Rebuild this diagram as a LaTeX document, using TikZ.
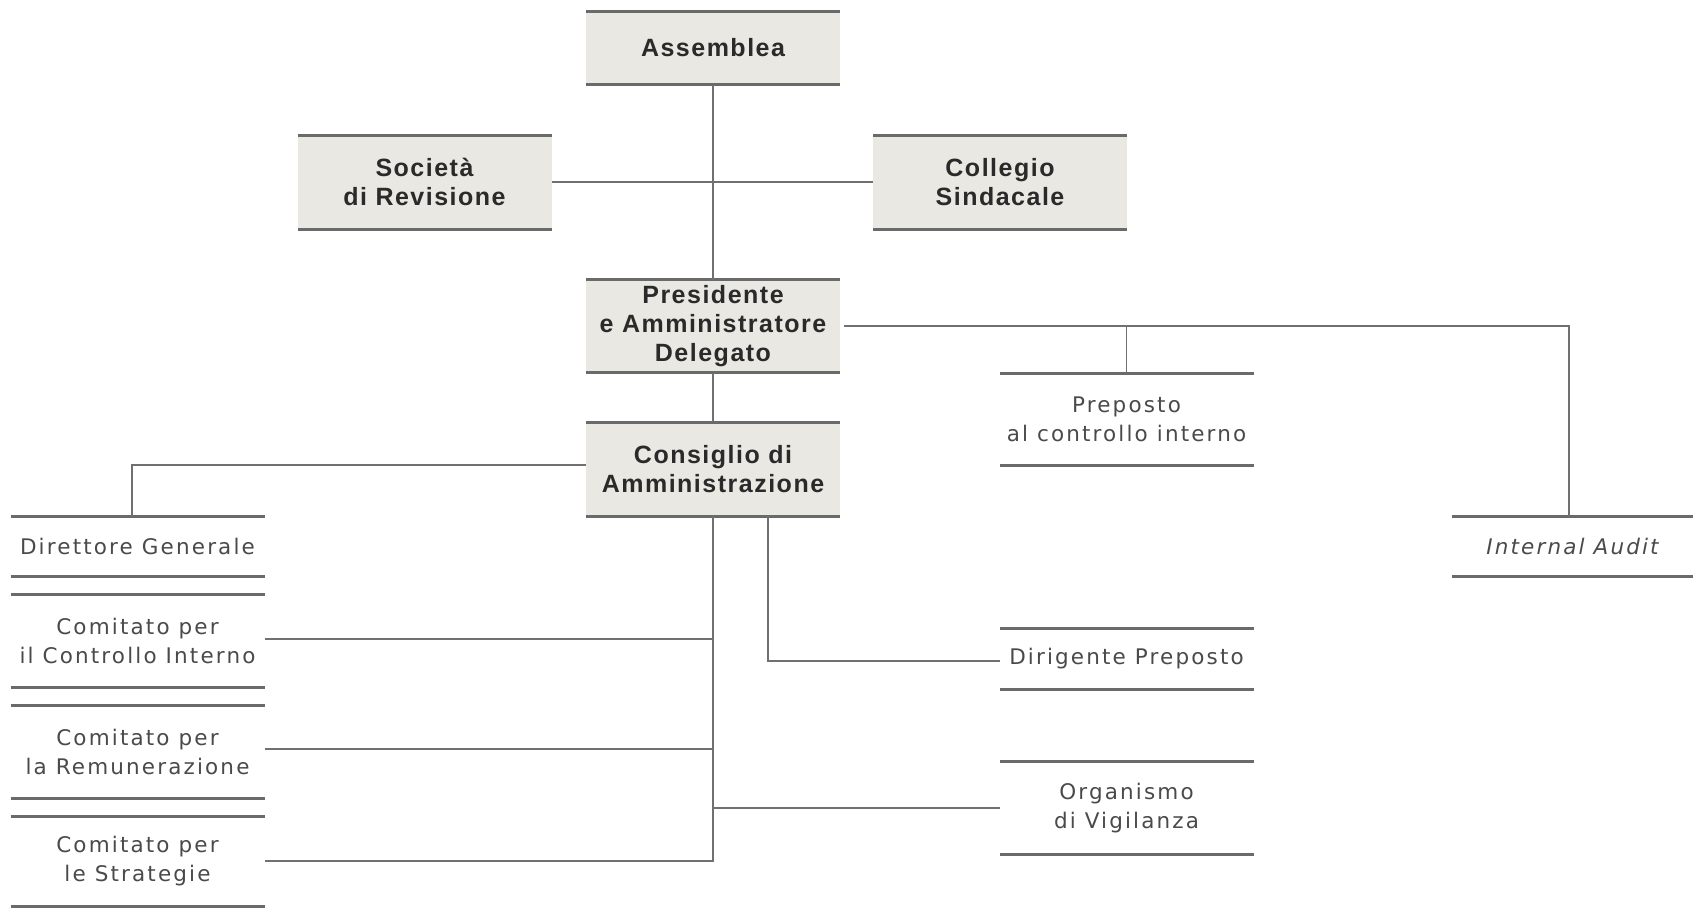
\documentclass[tikz,border=0pt]{standalone}
\usepackage{fontspec}
\setmainfont{Liberation Sans}
\newfontfamily\bfam[LetterSpace=6]{Liberation Sans}
\newfontfamily\rfam[LetterSpace=10]{DejaVu Sans}
\definecolor{boxfill}{HTML}{E9E8E2}
\definecolor{rulecol}{HTML}{6A6A6A}
\definecolor{linecol}{HTML}{707070}
\definecolor{txtdark}{HTML}{2A2A2A}
\definecolor{txtreg}{HTML}{4A4A4A}
\begin{document}
\begin{tikzpicture}[x=1pt,y=1pt,
  base/.style={inner sep=0pt, outer sep=0pt, align=center},
  graybox/.style={base, fill=boxfill, minimum width=254pt, text=txtdark,
    font=\bfam\bfseries\fontsize{25}{29}\selectfont},
  plainbox/.style={base, minimum width=254pt, text=txtreg,
    font=\rfam\fontsize{21.5}{29}\selectfont},
  rule/.style={line width=3pt, draw=rulecol},
  conn/.style={line width=1.6pt, draw=linecol}]
\useasboundingbox (0,0) rectangle (1693,-908);
% gray boxes
\node[graybox, minimum height=73pt] (ass) at (713,-48) {Assemblea};
\node[graybox, minimum height=94pt] (soc) at (424.5,-182) {Società\\di Revisione};
\node[graybox, minimum height=94pt] (col) at (1000,-182) {Collegio\\Sindacale};
\node[graybox, minimum height=93pt] (pres) at (713,-326) {Presidente\\e Amministratore\\Delegato};
\node[graybox, minimum height=94pt] (cda) at (713,-469) {Consiglio di\\Amministrazione};
% plain boxes
\node[plainbox, minimum height=92pt] (prep) at (1126.5,-419) {Preposto\\al controllo interno};
\node[plainbox, minimum height=60pt, minimum width=241pt] (ia) at (1572.5,-546.5) {\itshape Internal Audit};
\node[plainbox, minimum height=60pt] (dg) at (137.5,-546.5) {Direttore Generale};
\node[plainbox, minimum height=93pt] (cci) at (137.5,-641) {Comitato per\\il Controllo Interno};
\node[plainbox, minimum height=93pt] (crem) at (137.5,-751.5) {Comitato per\\la Remunerazione};
\node[plainbox, minimum height=90pt] (cstr) at (137.5,-861) {Comitato per\\le Strategie};
\node[plainbox, minimum height=61pt] (dp) at (1126.5,-658.5) {Dirigente Preposto};
\node[plainbox, minimum height=93pt] (odv) at (1126.5,-808) {Organismo\\di Vigilanza};
% rules
\foreach \n in {ass,soc,col,pres,cda,prep,ia,dg,cci,crem,cstr,dp,odv}{
  \draw[rule] (\n.north west) -- (\n.north east);
  \draw[rule] (\n.south west) -- (\n.south east);
}
% connectors
\draw[conn] (ass.south) -- (pres.north);
\draw[conn] (soc.east) -- (col.west);
\draw[conn] (pres.south) -- (cda.north);
\coordinate (pr) at ([xshift=4pt]pres.east);
\coordinate (iatop) at ([xshift=-3.5pt]ia.north);
\draw[conn] (pr) -- (pr -| iatop) -- (iatop);
\draw[conn] (prep.north) -- (prep.north |- pr);
\coordinate (dgtop) at ([xshift=-5.5pt]dg.north);
\draw[conn] ([yshift=4pt]cda.west) -| (dgtop);
\draw[conn] (cda.south) -- (cda.south |- cstr.east) -- (cstr.east);
\draw[conn] ([yshift=2pt]cci.east) -- ([yshift=2pt]cci.east -| cda.south);
\draw[conn] ([yshift=2.5pt]crem.east) -- ([yshift=2.5pt]crem.east -| cda.south);
\draw[conn] (odv.west) -- (odv.west -| cda.south);
\coordinate (cdab) at ([xshift=55pt]cda.south);
\draw[conn] (cdab) |- ([yshift=-2.5pt]dp.west);
\end{tikzpicture}
\end{document}
